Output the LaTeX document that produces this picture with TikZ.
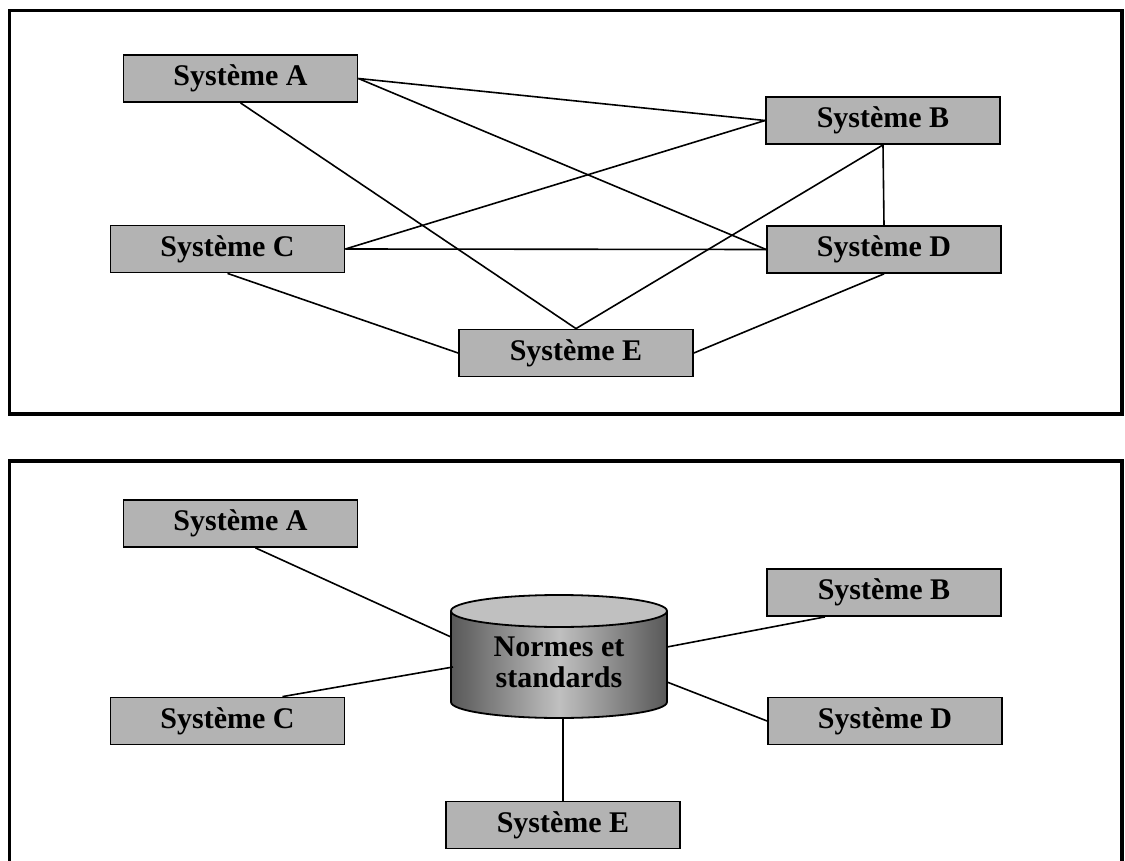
\documentclass[tikz,border=0pt]{standalone}
\usepackage{fontspec}
\setmainfont{Liberation Serif}
\definecolor{boxgray}{RGB}{179,179,179}
\definecolor{cyldark}{RGB}{88,88,88}
\definecolor{cyllight}{RGB}{192,192,192}
\begin{document}
\begin{tikzpicture}[x=1pt,y=-1pt,
  sysbox/.style={draw=black, line width=1.8pt, fill=boxgray,
    minimum width=234pt, minimum height=47pt, inner sep=0pt,
    font=\fontsize{30}{32}\selectfont\bfseries},
  link/.style={line width=1.6pt},
  panel/.style={line width=3.8pt, line join=miter}]
\useasboundingbox (0,0) rectangle (1125,861);

% panel frames
\draw[panel] (9.5,10.5) rectangle (1122,414);
\draw[panel] (9.5,870) -- (9.5,461) -- (1122,461) -- (1122,870);

% ---- point-to-point links ----
\node[sysbox] (A) at (240.5,78.5) {Système A};
\node[sysbox] (B) at (883,120.5) {Système B};
\node[sysbox] (C) at (227.5,249) {Système C};
\node[sysbox] (D) at (884,249.5) {Système D};
\node[sysbox] (E) at (576,353) {Système E};

\draw[link] (A.east) -- (B.west);
\draw[link] (A.east) -- (D.west);
\draw[link] (A.south) -- (E.north);
\draw[link] (C.east) -- (B.west);
\draw[link] (C.east) -- (D.west);
\draw[link] (C.south) -- (E.west);
\draw[link] (B.south) -- (E.north);
\draw[link] (B.south) -- (D.north);
\draw[link] (D.south) -- (E.east);

% ---- shared standards ----
\shade[left color=cyldark, right color=cyldark, middle color=cyllight]
  (451,611) -- (451,702) arc[start angle=180, end angle=360, x radius=108pt, y radius=16pt]
  -- (667,611) -- cycle;
\draw[line width=1.8pt] (451,611) -- (451,702)
  arc[start angle=180, end angle=360, x radius=108pt, y radius=16pt] -- (667,611);
\draw[line width=1.8pt, fill=cyllight] (559,611) ellipse [x radius=108pt, y radius=16pt];
\node[align=center, font=\fontsize{30}{31}\selectfont\bfseries] (db) at (559,662)
  {Normes et\\standards};

\coordinate (dbA) at (451,637);
\coordinate (dbC) at (453,667);
\coordinate (dbB) at (667,647);
\coordinate (dbD) at (667,682);
\coordinate (dbE) at (563,717);

\node[sysbox] (A2) at (240.5,523.5) {Système A};
\node[sysbox] (B2) at (884,592.5) {Système B};
\node[sysbox] (C2) at (227.5,721) {Système C};
\node[sysbox] (D2) at (885,721) {Système D};
\node[sysbox] (E2) at (563,825) {Système E};

\draw[link] ([xshift=15pt]A2.south) -- (dbA);
\draw[link] ([xshift=55pt]C2.north) -- (dbC);
\draw[link] ([xshift=-59pt]B2.south) -- (dbB);
\draw[link] (D2.west) -- (dbD);
\draw[link] (E2.north) -- (dbE);
\end{tikzpicture}
\end{document}
